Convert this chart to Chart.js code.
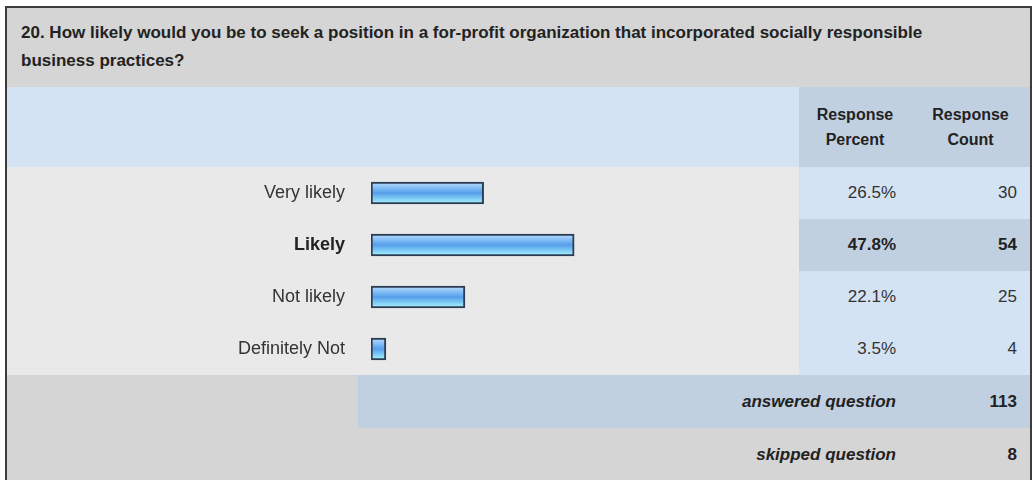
<!DOCTYPE html>
<html>
<head>
<meta charset="utf-8">
<script src="https://cdn.jsdelivr.net/npm/chart.js@4.4.1/dist/chart.umd.min.js"></script>
<style>
  html, body { margin: 0; padding: 0; background: #fff; }
  body { width: 1034px; height: 480px; overflow: hidden; position: relative;
         font-family: "Liberation Sans", Arial, Helvetica, sans-serif; color: #333; }
  #frame { position: absolute; left: 5px; top: 6px; width: 1023px; height: 500px;
           border: 2px solid #3c3c3c; border-bottom: none; background: #d5d5d5; }
  .cell { position: absolute; box-sizing: border-box; }
  .title { left: 0; top: 0; width: 1023px; height: 79px; background: #d5d5d5;
           padding: 11px 0 0 14px; font-weight: bold; font-size: 17px; line-height: 28px;
           color: #222; white-space: nowrap; }
  .hdr-left { left: 0; top: 79px; width: 792px; height: 80px; background: #d4e3f3; }
  .hdr-right { left: 792px; top: 79px; width: 231px; height: 80px; background: #c1d0e1; }
  .hdr { top: 79px; height: 80px; font-weight: bold; font-size: 16px; line-height: 25px;
         color: #222; text-align: center; display: flex; align-items: center; justify-content: center; }
  .row-left { left: 0; width: 792px; height: 52px; background: #e9e9e9; }
  .num { height: 52px; line-height: 52px; font-size: 17px; text-align: right; background: #d4e3f3; }
  .num.hi { background: #c1d0e1; font-weight: bold; color: #222; }
  .pct { left: 792px; width: 112px; padding-right: 15px; }
  .cnt { left: 904px; width: 119px; padding-right: 13px; }
  .foot { font-weight: bold; font-size: 17px; color: #222; text-align: right; line-height: 53px; height: 53px; }
  #chartBox { position: absolute; left: 0; top: 159px; width: 792px; height: 208px; }
</style>
</head>
<body>
<div id="frame">
  <div class="cell title">20. How likely would you be to seek a position in a for-profit organization that incorporated socially responsible<br>business practices?</div>
  <div class="cell hdr-left"></div>
  <div class="cell hdr-right"></div>
  <div class="cell hdr" style="left:792px;width:112px">Response<br>Percent</div>
  <div class="cell hdr" style="left:904px;width:119px">Response<br>Count</div>
  <div id="rows"></div>
  <div class="cell" style="left:0;top:367px;width:351px;height:53px;background:#d5d5d5"></div>
  <div class="cell" style="left:351px;top:367px;width:672px;height:53px;background:#c1d0e1"></div>
  <div class="cell foot" style="left:351px;top:367px;width:553px;padding-right:15px"><i>answered question</i></div>
  <div class="cell foot" id="answered" style="left:904px;top:367px;width:119px;padding-right:13px"></div>
  <div class="cell foot" style="left:351px;top:420px;width:553px;padding-right:15px"><i>skipped question</i></div>
  <div class="cell foot" id="skipped" style="left:904px;top:420px;width:119px;padding-right:13px"></div>
  <div id="chartBox"><canvas id="bars" width="792" height="208"></canvas></div>
</div>

<script>
// respuestas de la pregunta 20
const answers = ["Very likely", "Likely", "Not likely", "Definitely Not"];
const percents = [26.5, 47.8, 22.1, 3.5];
const counts = [30, 54, 25, 4];
const answeredCount = 113;
const skippedCount = 8;
const topAnswer = 1; // fila resaltada

// celdas de porcentaje y conteo
const rows = document.getElementById("rows");
answers.forEach((a, i) => {
    const top = 159 + i * 52;
    const hi = i === topAnswer ? " hi" : "";
    rows.innerHTML +=
        `<div class="cell row-left" style="top:${top}px"></div>` +
        `<div class="cell num pct${hi}" style="top:${top}px">${percents[i].toFixed(1)}%</div>` +
        `<div class="cell num cnt${hi}" style="top:${top}px">${counts[i]}</div>`;
});
document.getElementById("answered").textContent = answeredCount;
document.getElementById("skipped").textContent = skippedCount;

// degradado tipo "vidrio" para cada barra
function barGradient(context) {
    const chart = context.chart;
    if (!chart.chartArea || !chart.scales.y) return "#5fa6ee";
    const yc = chart.scales.y.getPixelForValue(context.dataIndex);
    const g = chart.ctx.createLinearGradient(0, yc - 11, 0, yc + 11);
    g.addColorStop(0, "#b8defe");
    g.addColorStop(0.3, "#7cb9f4");
    g.addColorStop(0.5, "#559ee9");
    g.addColorStop(0.75, "#7fcbf6");
    g.addColorStop(1, "#aef6ff");
    return g;
}

const ctx = document.getElementById("bars").getContext("2d");
new Chart(ctx, {
    type: "bar",
    data: {
        labels: answers,
        datasets: [
            {
                data: percents,
                backgroundColor: barGradient,
                borderColor: "#2c3c52",
                borderWidth: 2,
                borderSkipped: false,
                barThickness: 22,
            },
        ],
    },
    options: {
        indexAxis: "y",
        responsive: false,
        animation: false,
        layout: { padding: { left: 0, right: 3, top: 0, bottom: 0 } },
        plugins: {
            legend: { display: false },
            tooltip: { enabled: false },
        },
        scales: {
            x: { display: false, min: 0, max: 100 },
            y: {
                // ancho fijo para las etiquetas y sin relleno vertical
                afterFit: (scale) => {
                    scale.width = 364;
                    scale.paddingTop = 0;
                    scale.paddingBottom = 0;
                },
                grid: { display: false, drawTicks: false },
                border: { display: false },
                ticks: {
                    padding: 26,
                    color: (c) => (c.index === topAnswer ? "#222" : "#333"),
                    font: (c) => ({
                        family: "'Liberation Sans', Arial, sans-serif",
                        size: 18,
                        weight: c.index === topAnswer ? "bold" : "normal",
                    }),
                },
            },
        },
    },
});
</script>
</body>
</html>
